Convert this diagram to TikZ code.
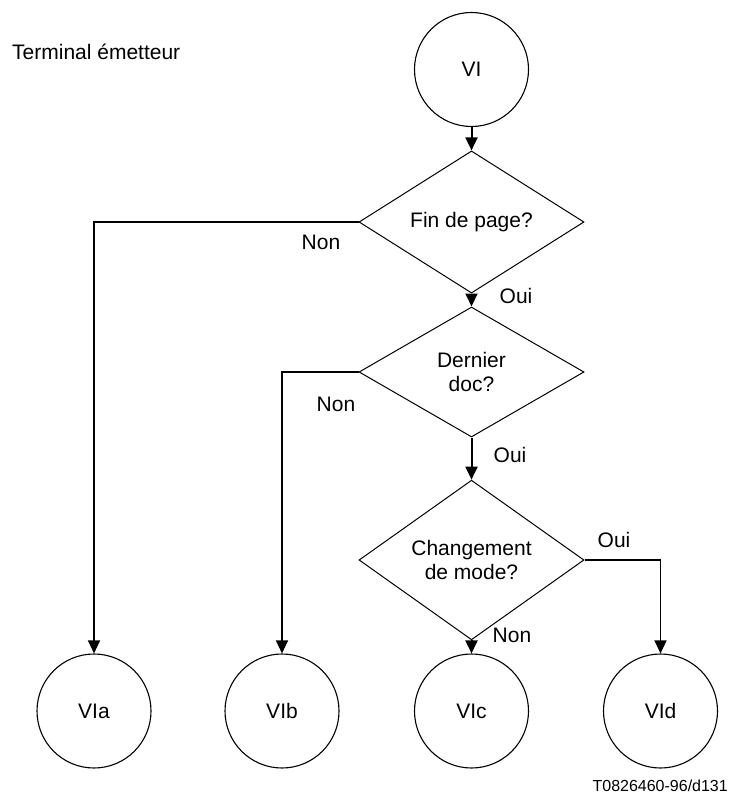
\documentclass[tikz,border=0pt]{standalone}
\usepackage{fontspec}
\setmainfont{Liberation Sans}
\usetikzlibrary{shapes.geometric,arrows.meta}
\begin{document}
\begin{tikzpicture}[x=1pt,y=-1pt,
  every node/.style={font=\fontsize{21}{24}\selectfont},
  state/.style={circle,draw,line width=1.1pt,minimum size=114pt,inner sep=0pt},
  decision/.style={diamond,draw,line width=1pt,minimum width=225pt,minimum height=130pt,inner sep=0pt,align=center},
  flow/.style={line width=2pt,-{Triangle[width=12pt,length=13pt]}},
  branch/.style={line width=1.2pt,-{Triangle[width=12pt,length=13pt]}},
  lbl/.style={inner sep=0pt}]
\useasboundingbox (0,0) rectangle (732,799);

\node[lbl,anchor=base west] (title) at (12,60) {Terminal émetteur};

\node[state] (VI) at (471.5,69.5) {VI};
\node[decision] (D1) at (471.5,222) {Fin de page?};
\node[decision] (D2) at (471.5,372) {Dernier\\doc?};
\node[decision] (D3) at (471.5,560) {Changement\\de mode?};

\node[state] (VIa) at (94,711) {VIa};
\node[state] (VIb) at (282,711) {VIb};
\node[state] (VIc) at (471.5,711) {VIc};
\node[state] (VId) at (660.5,711) {VId};

\draw[flow] (VI.south) -- (D1.north);
\draw[flow] (D1.south) -- (D2.north);
\draw[flow] (D2.south) -- (D3.north);
\draw[flow] (D3.south) -- (VIc.north);

\draw[branch] (D1.west) -| (VIa.north);
\draw[branch] (D2.west) -| (VIb.north);
\draw[branch] (D3.east) -| (VId.north);

\node[lbl] (n1) at (321,242) {Non};
\node[lbl] (o1) at (516,296) {Oui};
\node[lbl] (n2) at (336,404) {Non};
\node[lbl] (o2) at (510,455) {Oui};
\node[lbl] (o3) at (614,540) {Oui};
\node[lbl] (n3) at (512,635) {Non};

\node[lbl,anchor=base east,font=\fontsize{16}{19}\selectfont] (ref) at (728,791) {T0826460-96/d131};
\end{tikzpicture}
\end{document}
